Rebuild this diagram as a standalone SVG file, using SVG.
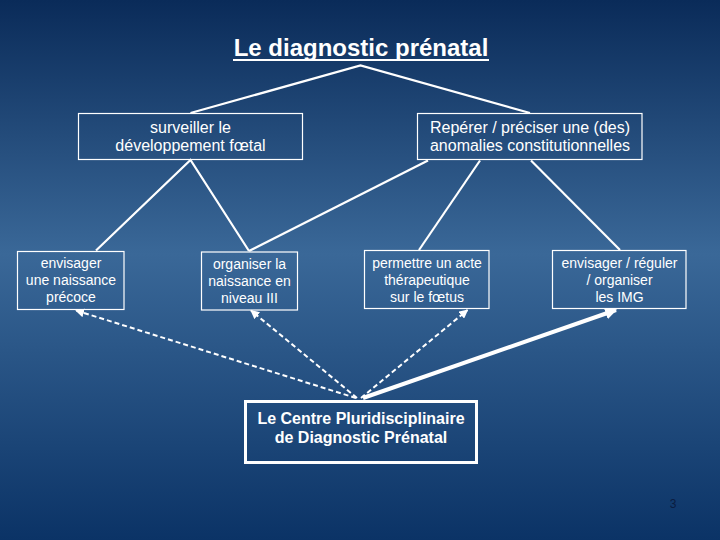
<svg xmlns="http://www.w3.org/2000/svg" width="720" height="540" viewBox="0 0 720 540">
<defs>
<linearGradient id="bg" x1="0" y1="0" x2="0" y2="1">
<stop offset="0" stop-color="#0a2b59"/>
<stop offset="0.47" stop-color="#3a6898"/>
<stop offset="1" stop-color="#0b3366"/>
</linearGradient>
<marker id="ah" viewBox="0 0 10 10" refX="9" refY="5" markerWidth="4.5" markerHeight="4.5" orient="auto" markerUnits="strokeWidth">
<path d="M0,0 L10,5 L0,10 z" fill="#ffffff"/>
</marker>
<marker id="ahb" viewBox="0 0 10 10" refX="9" refY="5" markerWidth="3" markerHeight="3" orient="auto" markerUnits="strokeWidth">
<path d="M0,0 L10,5 L0,10 z" fill="#ffffff"/>
</marker>
</defs>
<style>
.box{fill:none;stroke:#ffffff;stroke-width:1.2}
.cbox{fill:none;stroke:#ffffff;stroke-width:3}
.t{font-family:"Liberation Sans",Arial,sans-serif;fill:#ffffff;text-anchor:middle}
.m{font-size:16px}
.s{font-size:14px}
.b{font-size:16px;font-weight:bold}
.ln{stroke:#ffffff;stroke-width:2.2;fill:none}
.dash{stroke:#ffffff;stroke-width:2;stroke-dasharray:5 3;fill:none}
</style>
<rect x="0" y="0" width="720" height="540" fill="url(#bg)"/>
<g id="title">
<text class="t" x="361" y="56" style="font-size:24px;font-weight:bold">Le diagnostic prénatal</text>
<line x1="233" y1="60" x2="489" y2="60" stroke="#ffffff" stroke-width="2"/>
</g>
<g id="connectors">
<polyline class="ln" points="190.5,113 360.5,65.5 530,113"/>
<polyline class="ln" points="96,250.5 190.5,160 249,251"/>
<line class="ln" x1="428" y1="160.5" x2="249" y2="251"/>
<line class="ln" x1="480" y1="160.5" x2="419" y2="250"/>
<line class="ln" x1="531" y1="160.5" x2="620" y2="250"/>
<line class="dash" x1="356" y1="398" x2="76" y2="310.5" marker-end="url(#ah)"/>
<line class="dash" x1="357" y1="398" x2="251" y2="310.5" marker-end="url(#ah)"/>
<line class="dash" x1="361" y1="398" x2="467.5" y2="310" marker-end="url(#ah)"/>
<line x1="363" y1="398" x2="616" y2="310" stroke="#ffffff" stroke-width="4" marker-end="url(#ahb)"/>
</g>
<g id="n-surveiller">
<rect class="box" x="78.5" y="113.5" width="224" height="46"/>
<text class="t m" x="190.5" y="132.5">surveiller le</text>
<text class="t m" x="190.5" y="151">développement fœtal</text>
</g>
<g id="n-reperer">
<rect class="box" x="417.5" y="113.5" width="224.5" height="46"/>
<text class="t m" x="530" y="132.5">Repérer / préciser une (des)</text>
<text class="t m" x="530" y="151">anomalies constitutionnelles</text>
</g>
<g id="n-precoce">
<rect class="box" x="17.5" y="251.5" width="106.5" height="58"/>
<text class="t s" x="71" y="268">envisager</text>
<text class="t s" x="71" y="285">une naissance</text>
<text class="t s" x="71" y="302">précoce</text>
</g>
<g id="n-niveau">
<rect class="box" x="201.5" y="252" width="96" height="58"/>
<text class="t s" x="249.5" y="269">organiser la</text>
<text class="t s" x="249.5" y="286">naissance en</text>
<text class="t s" x="249.5" y="303">niveau III</text>
</g>
<g id="n-therapeutique">
<rect class="box" x="364.5" y="250.5" width="124.5" height="58"/>
<text class="t s" x="427" y="268">permettre un acte</text>
<text class="t s" x="427" y="285">thérapeutique</text>
<text class="t s" x="427" y="302">sur le fœtus</text>
</g>
<g id="n-img">
<rect class="box" x="552.5" y="250.5" width="133.5" height="58"/>
<text class="t s" x="619.5" y="268">envisager / réguler</text>
<text class="t s" x="619.5" y="285">/ organiser</text>
<text class="t s" x="619.5" y="302">les IMG</text>
</g>
<g id="n-centre">
<rect class="cbox" x="245.5" y="401.5" width="231" height="61"/>
<text class="t b" x="361" y="423.5">Le Centre Pluridisciplinaire</text>
<text class="t b" x="361" y="442.5">de Diagnostic Prénatal</text>
</g>
<g id="page">
<text x="673" y="508" style="font-family:'Liberation Sans',Arial,sans-serif;font-size:12px;fill:#0a1c40;text-anchor:middle">3</text>
</g>
</svg>
